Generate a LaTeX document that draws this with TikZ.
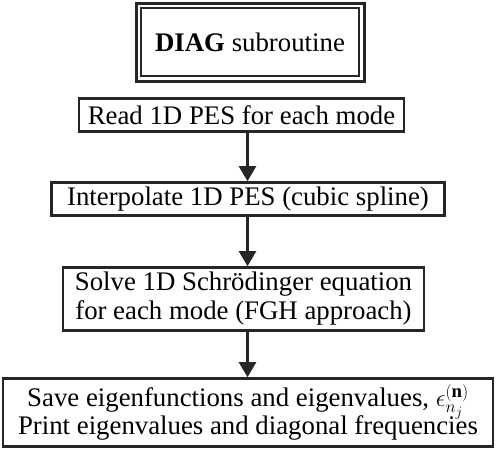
\documentclass[tikz,border=0pt]{standalone}
\usepackage{fontspec}
\setmainfont{Liberation Serif}
\usetikzlibrary{arrows.meta,calc}
\begin{document}
\begin{tikzpicture}[x=1pt,y=-1pt,
  stepbox/.style={draw=black!85,line width=2.6pt,inner sep=0pt,font=\fontsize{26.8}{29}\selectfont,align=center},
  conn/.style={draw=black!85,line width=2.5pt,-{Triangle[width=17pt,length=15pt]}}]
\useasboundingbox (0,0) rectangle (496,456);
% top double box
\node[draw=black!85,line width=3pt,minimum width=228pt,minimum height=78pt,inner sep=0pt] (top) at (250,42) {};
\node[draw=black!85,line width=1.5pt,minimum width=218pt,minimum height=68pt,inner sep=0pt,font=\fontsize{26.8}{29}\selectfont] (topin) at (250,42) {\textbf{DIAG} subroutine};
\node[stepbox,minimum width=325pt,minimum height=33pt] (b2) at (241.5,115) {Read 1D PES for each mode};
\node[stepbox,minimum width=393pt,minimum height=33pt] (b3) at (248,199) {Interpolate 1D PES (cubic spline)};
\node[stepbox,minimum width=361pt,minimum height=63pt] (b4) at (243.5,299) {Solve 1D Schr\"odinger equation\\for each mode (FGH approach)};
\node[stepbox,minimum width=490pt,minimum height=68pt] (b5) at (248,412.5) {Save eigenfunctions and eigenvalues, $\epsilon_{n_j}^{(\mathbf{n})}$\\[-4pt]Print eigenvalues and diagonal frequencies};
\coordinate (ax) at (247.5,0);
\draw[conn] (b2.south -| ax) -- (b3.north -| ax);
\draw[conn] (b3.south -| ax) -- (b4.north -| ax);
\draw[conn] (b4.south -| ax) -- (b5.north -| ax);
\end{tikzpicture}
\end{document}
